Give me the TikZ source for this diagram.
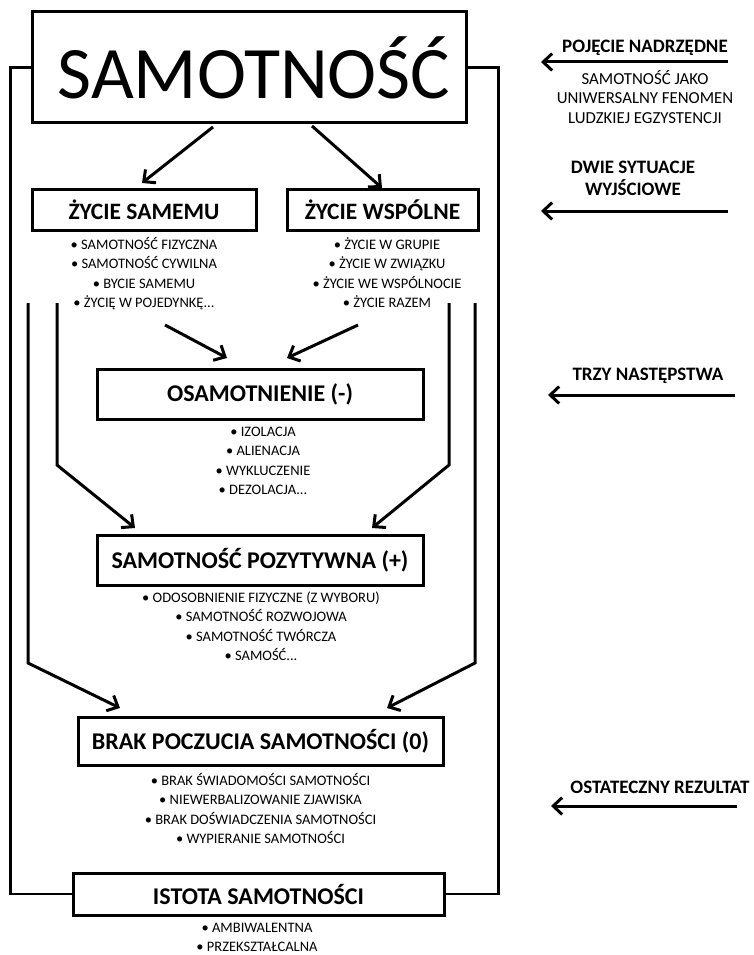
\documentclass[tikz,border=0pt]{standalone}
\usepackage{fontspec}
\setmainfont{Carlito}
\usetikzlibrary{arrows.meta}
\tikzset{
	pole/.style={draw, line width=3pt, inner sep=0pt, font=\bfseries\fontsize{24}{26}\selectfont},
	punkty/.style={align=center, inner sep=0pt, anchor=base, font=\fontsize{14.5}{19.5}\selectfont},
	opis/.style={align=center, inner sep=0pt, font=\bfseries\fontsize{19}{22}\selectfont},
	strz/.style={line width=3pt, -{Straight Barb[length=9pt,width=17pt]}},
	rama/.style={line width=2.5pt},
}

\begin{document}
\begin{tikzpicture}[x=1pt,y=-1pt]
	\useasboundingbox (0,0) rectangle (753,955);
	\node [pole, minimum width=434, minimum height=111, font=\fontsize{74}{80}\selectfont] (samotnosc) at (249,67.5) {\hspace{10pt}SAMOTNOŚĆ};
	\node [pole, minimum width=224, minimum height=41, font=\bfseries\fontsize{23.5}{26}\selectfont] (samemu) at (144,209.5) {ŻYCIE SAMEMU};
	\node [pole, minimum width=191, minimum height=41, font=\bfseries\fontsize{23.5}{26}\selectfont] (wspolne) at (382.5,209.5) {ŻYCIE WSPÓLNE};
	\node [pole, minimum width=326, minimum height=50] (osam) at (260,394) {OSAMOTNIENIE (-)};
	\node [pole, minimum width=326, minimum height=50] (pozyt) at (260,560) {SAMOTNOŚĆ POZYTYWNA (+)};
	\node [pole, minimum width=365, minimum height=48] (brak) at (260.5,741) {BRAK POCZUCIA SAMOTNOŚCI (0)};
	\node [pole, minimum width=371, minimum height=42] (istota) at (258.5,894) {ISTOTA SAMOTNOŚCI};

	\node [punkty] (samemuL) at (144,307.5) {• SAMOTNOŚĆ FIZYCZNA\\• SAMOTNOŚĆ CYWILNA\\• BYCIE SAMEMU\\• ŻYCIĘ W POJEDYNKĘ...};
	\node [punkty] (wspolneL) at (387,307.5) {• ŻYCIE W GRUPIE\\• ŻYCIE W ZWIĄZKU\\• ŻYCIE WE WSPÓLNOCIE\\• ŻYCIE RAZEM};
	\node [punkty] (osamL) at (263,494.5) {• IZOLACJA\\• ALIENACJA\\• WYKLUCZENIE\\• DEZOLACJA...};
	\node [punkty] (pozytL) at (261,660.5) {• ODOSOBNIENIE FIZYCZNE (Z WYBORU)\\• SAMOTNOŚĆ ROZWOJOWA\\• SAMOTNOŚĆ TWÓRCZA\\• SAMOŚĆ...};
	\node [punkty] (brakL) at (260.5,843.5) {• BRAK ŚWIADOMOŚCI SAMOTNOŚCI\\• NIEWERBALIZOWANIE ZJAWISKA\\• BRAK DOŚWIADCZENIA SAMOTNOŚCI\\• WYPIERANIE SAMOTNOŚCI};
	\node [punkty] (istotaL) at (257,951.5) {• AMBIWALENTNA\\• PRZEKSZTAŁCALNA};

	\draw [rama] (samotnosc.west) -- ++(-20,0) |- (istota.west);
	\draw [rama] (samotnosc.east) -- ++(31,0) |- (istota.east);

	\coordinate (s1) at (213,127);
	\coordinate (s2) at (142,183);
	\coordinate (s3) at (312,126);
	\coordinate (s4) at (382,188);
	\draw [strz] (s1) -- (s2);
	\draw [strz] (s3) -- (s4);

	\coordinate (o1) at (165,325);
	\coordinate (o2) at (227,358);
	\coordinate (o3) at (358,325);
	\coordinate (o4) at (287,358);
	\draw [strz] (o1) -- (o2);
	\draw [strz] (o3) -- (o4);

	\coordinate (p1) at (57,303);
	\coordinate (p2) at (57,465);
	\coordinate (p3) at (135,528);
	\coordinate (p4) at (449,303);
	\coordinate (p5) at (449,465);
	\coordinate (p6) at (372,528);
	\draw [strz] (p1) -- (p2) -- (p3);
	\draw [strz] (p4) -- (p5) -- (p6);

	\coordinate (b1) at (28,303);
	\coordinate (b2) at (28,663);
	\coordinate (b3) at (120,708);
	\coordinate (b4) at (475,303);
	\coordinate (b5) at (475,663);
	\coordinate (b6) at (387,708);
	\draw [strz] (b1) -- (b2) -- (b3);
	\draw [strz] (b4) -- (b5) -- (b6);

	\node [opis] (pojecie) at (645,48) {POJĘCIE NADRZĘDNE};
	\node [punkty, font=\fontsize{16.8}{19.5}\selectfont] (pojecieL) at (645,123.5) {SAMOTNOŚĆ JAKO\\UNIWERSALNY FENOMEN\\LUDZKIEJ EGZYSTENCJI};
	\node [opis] (dwie) at (633,178) {DWIE SYTUACJE\\WYJŚCIOWE};
	\node [opis] (trzy) at (648,376) {TRZY NASTĘPSTWA};
	\node [opis] (ostat) at (660,787) {OSTATECZNY REZULTAT};

	\coordinate (r1) at (728,62);
	\coordinate (r2) at (541,62);
	\coordinate (r3) at (728,211);
	\coordinate (r4) at (541,211);
	\coordinate (r5) at (735,395);
	\coordinate (r6) at (548,395);
	\coordinate (r7) at (737,806);
	\coordinate (r8) at (551,806);
	\draw [strz] (r1) -- (r2);
	\draw [strz] (r3) -- (r4);
	\draw [strz] (r5) -- (r6);
	\draw [strz] (r7) -- (r8);
\end{tikzpicture}
\end{document}
